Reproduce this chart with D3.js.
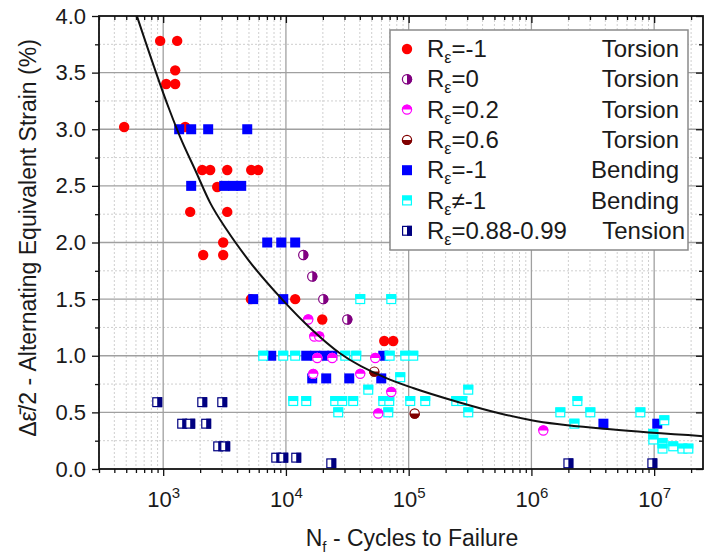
<!DOCTYPE html>
<html><head><meta charset="utf-8">
<script src="https://cdn.jsdelivr.net/npm/d3@7"></script>
<style>
body{margin:0;background:#fff}
svg{display:block}
text{font-family:"Liberation Sans",Arial,sans-serif;fill:#1a1a1a}
</style>
</head><body>
<svg id="c" width="704" height="554"></svg>
<script>
// ---------- data (N cycles, strain %) ----------
const torsionRm1 = [[945,3.78],[1300,3.78],[1253,3.52],[1058,3.40],[1253,3.40],[481,3.02],[1511,3.02],
  [2080,2.64],[2415,2.64],[3325,2.64],[5215,2.64],[5945,2.64],[2755,2.49],[1660,2.27],[3325,2.27],
  [3083,2.00],[2118,1.89],[3083,1.89],[5185,1.50],[11900,1.50],[19770,1.32],[63240,1.13],[74840,1.13]];
const torsionR0 = [[13840,1.89],[16380,1.70],[20140,1.50],[31600,1.32]];
const torsionR02 = [[15200,1.32],[17010,1.17],[18670,1.17],[18000,0.98],[23850,0.98],[53450,0.98],
  [16690,0.84],[40320,0.84],[72150,0.68],[56500,0.49],[1.25e6,0.34]];
const torsionR06 = [[52480,0.86],[1.12e5,0.49]];
const bendingRm1 = [[1350,3.0],[1691,3.0],[2326,3.0],[4840,3.0],[1691,2.5],[3141,2.5],[3718,2.5],[4322,2.5],
  [7041,2.0],[9160,2.0],[11900,2.0],[5414,1.5],[9510,1.5],[7590,1.0],[14640,1.0],[17330,1.0],[20520,1.0],
  [23850,1.0],[62100,1.0],[16380,0.8],[21290,0.8],[32800,0.8],[59800,0.8],[3.86e6,0.4],[1.06e7,0.4]];
const bendingRn1 = [[40320,1.5],[72150,1.5],
  [6530,1.0],[9510,1.0],[11900,1.0],[30430,1.0],[37410,1.0],[70000,1.0],[93800,1.0],[1.09e5,1.0],
  [85400,0.81],[46870,0.70],[3.06e5,0.70],
  [11470,0.60],[14630,0.60],[25210,0.60],[28770,0.60],[35330,0.60],[62100,0.60],[69500,0.60],
  [1.03e5,0.60],[1.365e5,0.60],[2.44e5,0.60],[2.73e5,0.60],
  [26680,0.50],[68200,0.50],[3.06e5,0.50],
  [1.72e6,0.50],[2.24e6,0.40],[2.37e6,0.60],[3.02e6,0.50],[7.72e6,0.50],
  [1.21e7,0.43],[9.84e6,0.31],[9.84e6,0.26],[1.17e7,0.23],[1.17e7,0.18],[1.43e7,0.20],[1.70e7,0.18],[1.90e7,0.18]];
const tension = [[894,0.59],[2080,0.59],[3027,0.59],[1428,0.40],[1660,0.40],[2240,0.40],[2807,0.20],[3200,0.20],
  [8337,0.10],[9510,0.10],[12130,0.10],[23400,0.05],[2.0e6,0.05],[9.66e6,0.05]];
// fitted curve
const fitCurve = [[611,4.0],[1126,3.17],[1376,2.93],[1823,2.64],[2415,2.35],[3305,2.11],[4950,1.845],
  [9270,1.5],[16300,1.23],[27700,1.02],[66500,0.80],[110000,0.713],[248000,0.594],[557000,0.49],
  [1.0e6,0.43],[4.4e6,0.35],[2.5e7,0.29]];
const yTicks = [0,0.5,1.0,1.5,2.0,2.5,3.0,3.5,4.0];
const xExps = [3,4,5,6,7];
const legendItems = [
  {type:"circle", label:"=-1", kind:"Torsion"},
  {type:"hcRight", label:"=0", kind:"Torsion"},
  {type:"hcTop", label:"=0.2", kind:"Torsion"},
  {type:"hcBottom", label:"=0.6", kind:"Torsion"},
  {type:"square", label:"=-1", kind:"Bending"},
  {type:"sqTop", label:"\u2260-1", kind:"Bending"},
  {type:"sqRight", label:"=0.88-0.99", kind:"Tension"}
];
const series = [
  {type:"circle", data:torsionRm1},
  {type:"square", data:bendingRm1},
  {type:"sqTop", data:bendingRn1},
  {type:"sqRight", data:tension},
  {type:"hcRight", data:torsionR0},
  {type:"hcTop", data:torsionR02},
  {type:"hcBottom", data:torsionR06}
];

// ---------- layout ----------
const svg = d3.select("#c");
const L=99, R=703, T=16, B=469;
const x = d3.scaleLog().domain([300,2.5e7]).range([L,R]);
const y = d3.scaleLinear().domain([0,4]).range([B,T]);

const allX = x.ticks();
const majorX = xExps.map(e=>Math.pow(10,e));
const minorX = allX.filter(v=>Math.abs(Math.log10(v)-Math.round(Math.log10(v)))>1e-6);
const minorY = d3.range(0.25,4,0.5);

// grid
const grid = svg.append("g");
grid.selectAll(".gxm").data(minorX).join("line")
  .attr("x1",d=>x(d)).attr("x2",d=>x(d)).attr("y1",T).attr("y2",B)
  .attr("stroke","#cfcfcf").attr("stroke-width",1).attr("stroke-dasharray","2,2");
grid.selectAll(".gym").data(minorY).join("line")
  .attr("x1",L).attr("x2",R).attr("y1",d=>y(d)).attr("y2",d=>y(d))
  .attr("stroke","#cfcfcf").attr("stroke-width",1).attr("stroke-dasharray","2,2");
grid.selectAll(".gxM").data(majorX).join("line")
  .attr("x1",d=>x(d)).attr("x2",d=>x(d)).attr("y1",T).attr("y2",B)
  .attr("stroke","#a0a0a0").attr("stroke-width",1.3);
grid.selectAll(".gyM").data(yTicks.slice(1,-1)).join("line")
  .attr("x1",L).attr("x2",R).attr("y1",d=>y(d)).attr("y2",d=>y(d))
  .attr("stroke","#a0a0a0").attr("stroke-width",1.3);

// markers
const S = 10, r = 5.2;
const colors = {circle:"#ff0000", square:"#0000ff", sqTop:"#00ffff", sqRight:"#000080",
  hcRight:"#800080", hcTop:"#ff00ff", hcBottom:"#800000"};
function drawMarker(g, type, cx, cy){
  const c = colors[type];
  if(type==="circle"){ g.append("circle").attr("cx",cx).attr("cy",cy).attr("r",r).attr("fill",c); return; }
  if(type==="square"){ g.append("rect").attr("x",cx-S/2).attr("y",cy-S/2).attr("width",S).attr("height",S).attr("fill",c); return; }
  if(type==="sqTop"||type==="sqRight"){
    g.append("rect").attr("x",cx-S/2+0.6).attr("y",cy-S/2+0.6).attr("width",S-1.2).attr("height",S-1.2).attr("fill","#fff");
    if(type==="sqTop") g.append("rect").attr("x",cx-S/2).attr("y",cy-S/2).attr("width",S).attr("height",S/2).attr("fill",c);
    else g.append("rect").attr("x",cx).attr("y",cy-S/2).attr("width",S/2).attr("height",S).attr("fill",c);
    g.append("rect").attr("x",cx-S/2+0.6).attr("y",cy-S/2+0.6).attr("width",S-1.2).attr("height",S-1.2)
      .attr("fill","none").attr("stroke",c).attr("stroke-width",1.2);
    return;
  }
  g.append("circle").attr("cx",cx).attr("cy",cy).attr("r",r).attr("fill","#fff");
  let p;
  if(type==="hcRight") p=`M${cx},${cy-r}A${r},${r} 0 0 1 ${cx},${cy+r}Z`;
  if(type==="hcTop") p=`M${cx-r},${cy}A${r},${r} 0 0 1 ${cx+r},${cy}Z`;
  if(type==="hcBottom") p=`M${cx+r},${cy}A${r},${r} 0 0 1 ${cx-r},${cy}Z`;
  g.append("path").attr("d",p).attr("fill",c);
  g.append("circle").attr("cx",cx).attr("cy",cy).attr("r",r-0.6).attr("fill","none").attr("stroke",c).attr("stroke-width",1.2);
}
const pts = svg.append("g");
series.forEach(s=>{
  s.data.forEach(d=>drawMarker(pts, s.type, x(d[0]), y(d[1])));
});

// fitted curve
svg.append("path").datum(fitCurve)
  .attr("d", d3.line().x(d=>x(d[0])).y(d=>y(d[1])).curve(d3.curveMonotoneX))
  .attr("fill","none").attr("stroke","#111").attr("stroke-width",2);

// axes
function styleAxis(g){ g.select(".domain").remove(); g.selectAll(".tick line").attr("stroke","#111").attr("stroke-width",1.3); }
const fs = "22px";
// bottom
const gb = svg.append("g").attr("transform",`translate(0,${B})`);
gb.call(d3.axisBottom(x).tickValues(minorX).tickSize(4).tickFormat(()=>"")).call(styleAxis);
const gb2 = svg.append("g").attr("transform",`translate(0,${B})`);
gb2.call(d3.axisBottom(x).tickValues(majorX).tickSize(7).tickFormat(()=>"")).call(styleAxis);
gb2.selectAll(".tick text").each(function(d){
  const t=d3.select(this);
  t.attr("y",38).attr("dy",0).attr("font-size",fs).attr("fill","#1a1a1a");
  t.append("tspan").text("10");
  t.append("tspan").attr("dy","-9").attr("font-size","15px").text(Math.round(Math.log10(d)));
});
// top (inward)
svg.append("g").attr("transform",`translate(0,${T})`)
  .call(d3.axisTop(x).tickValues(minorX).tickSize(-4).tickFormat(()=>"")).call(styleAxis);
svg.append("g").attr("transform",`translate(0,${T})`)
  .call(d3.axisTop(x).tickValues(majorX).tickSize(-7).tickFormat(()=>"")).call(styleAxis);
// left
svg.append("g").attr("transform",`translate(${L},0)`)
  .call(d3.axisLeft(y).tickValues(minorY).tickSize(4).tickFormat(()=>"")).call(styleAxis);
const gl = svg.append("g").attr("transform",`translate(${L},0)`)
  .call(d3.axisLeft(y).tickValues(yTicks).tickSize(7).tickPadding(6).tickFormat(d3.format(".1f"))).call(styleAxis);
gl.selectAll(".tick text").attr("font-size",fs).attr("fill","#1a1a1a");
// right (inward)
svg.append("g").attr("transform",`translate(${R},0)`)
  .call(d3.axisRight(y).tickValues(minorY).tickSize(-4).tickFormat(()=>"")).call(styleAxis);
svg.append("g").attr("transform",`translate(${R},0)`)
  .call(d3.axisRight(y).tickValues(yTicks).tickSize(-7).tickFormat(()=>"")).call(styleAxis);
// frame
svg.append("rect").attr("x",L).attr("y",T).attr("width",R-L).attr("height",B-T)
  .attr("fill","none").attr("stroke","#111").attr("stroke-width",1.8);

// axis titles
const xt = svg.append("text").attr("x",412).attr("y",546).attr("text-anchor","middle").attr("font-size","23px");
xt.append("tspan").text("N");
xt.append("tspan").attr("dy",6).attr("font-size","15px").text("f");
xt.append("tspan").attr("dy",-6).text(" - Cycles to Failure");
svg.append("text").attr("transform","translate(36,238) rotate(-90)").attr("text-anchor","middle")
  .attr("font-size","23px").text("\u0394\u03b5\u0304/2 - Alternating Equivalent Strain (%)");

// legend
const lg = svg.append("g");
lg.append("rect").attr("x",390).attr("y",30).attr("width",298).attr("height",220)
  .attr("fill","#fff").attr("stroke","#8a8a8a").attr("stroke-width",1.5);
const kindX = {Torsion:679, Bending:679, Tension:685};
legendItems.forEach((it,i)=>{
  const cy = 49 + i*30.3;
  drawMarker(lg, it.type, 407, cy);
  const t = lg.append("text").attr("x",427).attr("y",cy+8).attr("font-size","24px");
  t.append("tspan").text("R");
  t.append("tspan").attr("dy",6).attr("font-size","16px").text("\u03b5");
  t.append("tspan").attr("dy",-6).text(it.label);
  lg.append("text").attr("x",kindX[it.kind]).attr("y",cy+8).attr("text-anchor","end").attr("font-size","24px").text(it.kind);
});
</script>
</body></html>
